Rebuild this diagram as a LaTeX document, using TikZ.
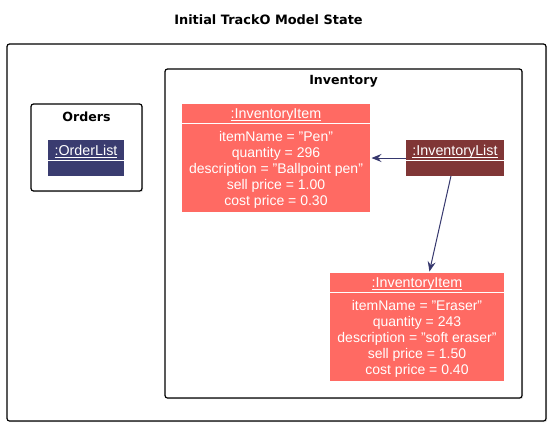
\documentclass[tikz,border=0pt]{standalone}
\usepackage{fontspec}
\setmainfont{Liberation Sans}
\newfontfamily\headfont{DejaVu Sans}
\usetikzlibrary{arrows.meta, shadows}

\definecolor{itemred}{RGB}{255,106,99}
\definecolor{listred}{RGB}{128,54,54}
\definecolor{listblue}{RGB}{58,60,112}
\definecolor{linkblue}{RGB}{54,56,110}

\newcommand{\objname}[1]{\setbox0\hbox{#1}\rlap{\rule[-2pt]{\wd0}{0.8pt}}\box0}

\begin{document}
\begin{tikzpicture}[x=1pt, y=-1pt,
        frame/.style={draw, fill=white, line width=1.2pt, rounded corners=2.5pt, inner sep=0pt,
            drop shadow={shadow xshift=1.2pt, shadow yshift=-1.2pt, opacity=0.25}},
        frametitle/.style={anchor=base, inner sep=0pt, font=\headfont\bfseries\fontsize{12.6}{15}\selectfont},
        object/.style={inner sep=0pt, outer sep=0pt, minimum height=36pt},
        item/.style={object, fill=itemred, minimum height=108pt},
        objtitle/.style={anchor=base, inner sep=0pt, text=white, font=\fontsize{14.3}{16}\selectfont},
        attr/.style={anchor=base, inner sep=0pt, text=white, font=\fontsize{14}{16}\selectfont},
        divider/.style={draw=white, line width=1pt},
        assoc/.style={draw=linkblue, line width=1pt, shorten >=1.5pt,
            -{Stealth[length=10pt, width=8pt, inset=3.5pt]}}]

        \useasboundingbox (0,0) rectangle (550,426);

        \node[anchor=base, inner sep=0pt, font=\headfont\bfseries\fontsize{12.9}{15}\selectfont] (title) at (268.5,24) {Initial TrackO Model State};

        % frames
        \node[frame, minimum width=539pt, minimum height=377pt] (model) at (276.5,232.5) {};
        \node[frame, minimum width=111pt, minimum height=87pt] (orders) at (86.5,147.5) {};
        \node[frame, minimum width=357pt, minimum height=329pt] (inventory) at (343.5,233.5) {};
        \node[frametitle] (orderstitle) at (86.5,121) {Orders};
        \node[frametitle] (inventorytitle) at (343.5,84) {Inventory};

        % objects
        \node[object, fill=listblue, minimum width=76pt] (orderlist) at (86,158) {};
        \node[object, fill=listred, minimum width=98pt] (invlist) at (455,158) {};
        \node[item, minimum width=188pt] (pen) at (276,158) {};
        \node[item, minimum width=174pt] (eraser) at (417,327) {};

        \node[objtitle] (orderlisttitle) at ([yshift=-15.5pt]orderlist.north) {\objname{:OrderList}};
        \node[objtitle] (invlisttitle) at ([yshift=-15.5pt]invlist.north) {\objname{:InventoryList}};
        \node[objtitle] (pentitle) at ([yshift=-14.5pt]pen.north) {\objname{:InventoryItem}};
        \node[objtitle] (erasertitle) at ([yshift=-14.5pt]eraser.north) {\objname{:InventoryItem}};

        \draw[divider] ([yshift=-20.5pt]orderlist.north west) -- ([yshift=-20.5pt]orderlist.north east);
        \draw[divider] ([yshift=-20.5pt]invlist.north west) -- ([yshift=-20.5pt]invlist.north east);
        \draw[divider] ([yshift=-19pt]pen.north west) -- ([yshift=-19pt]pen.north east);
        \draw[divider] ([yshift=-19pt]eraser.north west) -- ([yshift=-19pt]eraser.north east);

        \foreach \txt [count=\i] in {itemName = "Pen", quantity = 296, description = "Ballpoint pen", sell price = 1.00, cost price = 0.30}
            \node[attr] (pen-\i) at ([yshift={-21pt-16pt*\i}]pen.north) {\txt};
        \foreach \txt [count=\i] in {itemName = "Eraser", quantity = 243, description = "soft eraser", sell price = 1.50, cost price = 0.40}
            \node[attr] (eraser-\i) at ([yshift={-21pt-16pt*\i}]eraser.north) {\txt};

        \draw[assoc] (invlist) -- (pen);
        \draw[assoc] (invlist) -- (eraser);
\end{tikzpicture}
\end{document}
